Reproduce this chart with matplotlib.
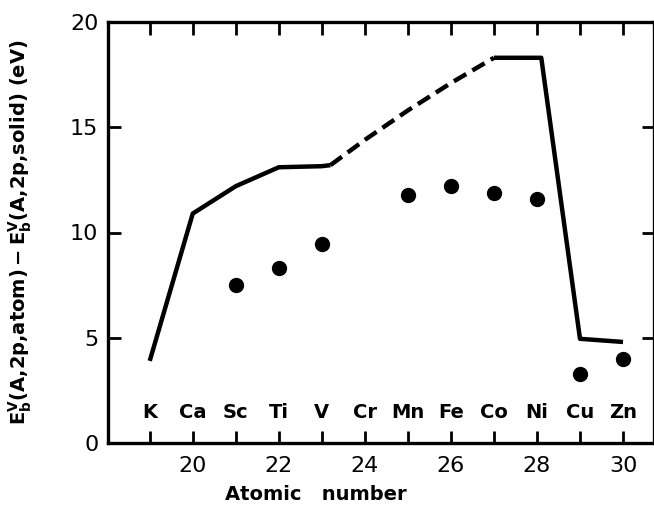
import numpy as np
import matplotlib
matplotlib.use('agg')
import matplotlib.pyplot as plt

# data
elements = ['K', 'Ca', 'Sc', 'Ti', 'V', 'Cr', 'Mn', 'Fe', 'Co', 'Ni', 'Cu', 'Zn']
z_elem = [19, 20, 21, 22, 23, 24, 25, 26, 27, 28, 29, 30]

# theory curve, solid parts and dashed (interpolated) part
z_solid1 = [19, 20, 21, 22, 23, 23.2]
e_solid1 = [3.9, 10.9, 12.2, 13.1, 13.15, 13.2]
z_dash = [23.2, 24, 25, 26, 27]
e_dash = [13.2, 14.4, 15.8, 17.1, 18.3]
z_solid2 = [27, 28.1, 29, 30]
e_solid2 = [18.3, 18.3, 4.95, 4.8]

# experimental points
z_exp = [21, 22, 23, 25, 26, 27, 28, 29, 30]
e_exp = [7.5, 8.3, 9.45, 11.8, 12.2, 11.9, 11.6, 3.3, 4.0]

plt.rcParams['font.family'] = 'DejaVu Sans'

fig = plt.figure(figsize=(6.54, 5.12), dpi=100)
ax = fig.add_axes([108/654, 1 - 443/512, 1 - 108/654, (443 - 22)/512])

lw = 3.2
ax.plot(z_solid1, e_solid1, color='black', lw=lw, solid_capstyle='butt')
ax.plot(z_dash, e_dash, color='black', lw=lw, ls=(0, (3.2, 1.6)))
ax.plot(z_solid2, e_solid2, color='black', lw=lw, solid_capstyle='butt')
ax.plot(z_exp, e_exp, 'o', color='black', ms=10)

for z, el in zip(z_elem, elements):
    ax.text(z, 1.45, el, ha='center', va='center', fontsize=14, fontweight='bold')

ax.set_xlim(18.03, 30.72)
ax.set_ylim(0, 20)
ax.set_xticks([20, 22, 24, 26, 28, 30])
ax.set_xticks(z_elem, minor=True)
ax.set_yticks([0, 5, 10, 15, 20])
ax.tick_params(axis='both', which='both', direction='in', top=True, right=True,
               width=2, length=9, labelsize=16, pad=7)
ax.tick_params(axis='x', which='major', pad=9)

for s in ax.spines.values():
    s.set_linewidth(2.4)

ax.set_xlabel('Atomic   number', fontsize=14, fontweight='bold')
ax.xaxis.set_label_coords(0.38, -0.1)
ax.set_ylabel(r'$\mathbf{E_b^V(A{,}2p{,}atom)-E_b^V(A{,}2p{,}solid)}$ (eV)',
              fontsize=14, fontweight='bold')
ax.yaxis.set_label_coords(-0.135, 0.5)

plt.savefig('out.png', dpi=100)
plt.close()
